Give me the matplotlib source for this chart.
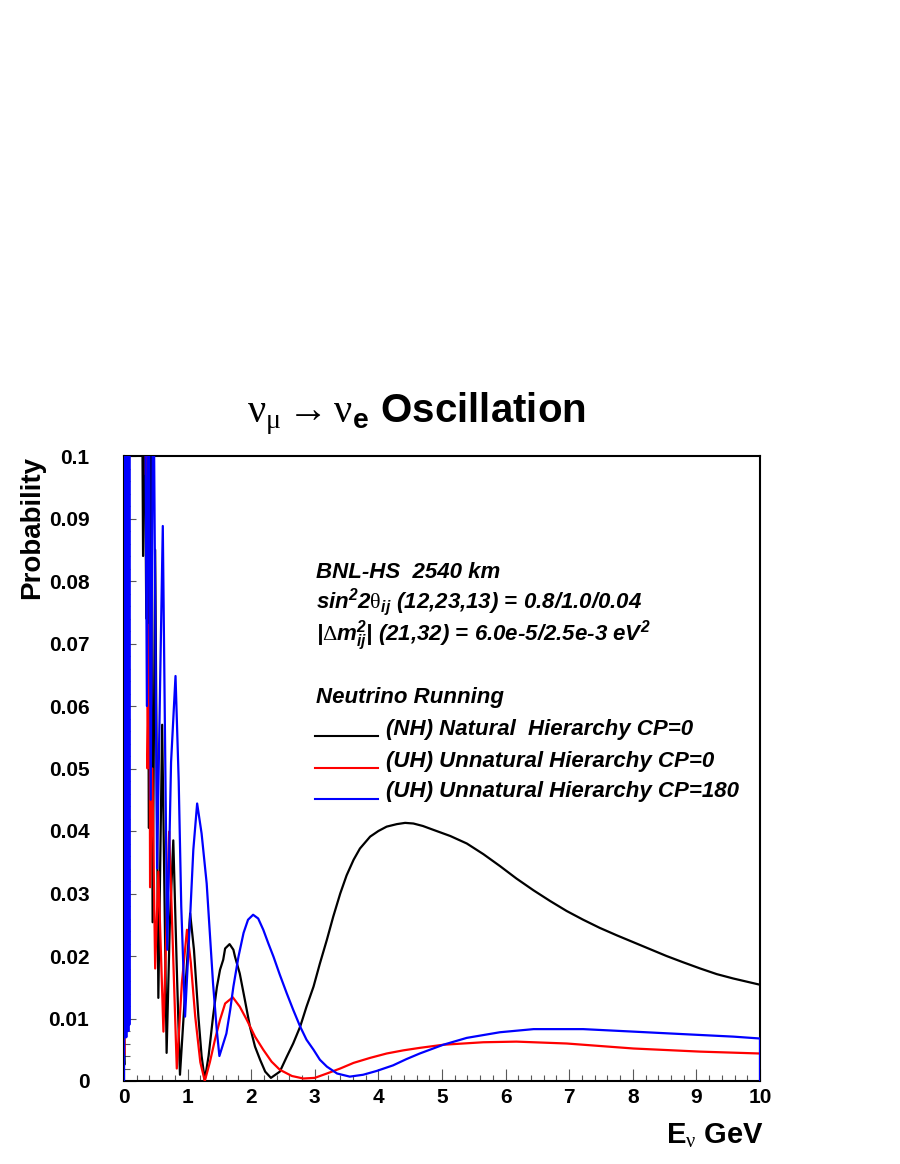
import matplotlib
matplotlib.use("Agg")
import matplotlib.pyplot as plt
from matplotlib.ticker import MultipleLocator, FixedLocator, FixedFormatter
from matplotlib.lines import Line2D

plt.rcParams['font.family'] = ['Liberation Sans', 'DejaVu Sans']
plt.rcParams['mathtext.fontset'] = 'custom'
plt.rcParams['mathtext.rm'] = 'Liberation Sans:bold:italic'
plt.rcParams['mathtext.it'] = 'Liberation Sans:bold:italic'
plt.rcParams['mathtext.bf'] = 'Liberation Sans:bold'
plt.rcParams['mathtext.sf'] = 'Liberation Serif'

# ---------------- data ----------------
E_nh = [0.000, 0.005, 0.012, 0.280, 0.300, 0.320, 0.350, 0.370, 0.390, 0.420,
        0.450, 0.490, 0.540, 0.600, 0.670, 0.720, 0.775, 0.830, 0.880, 0.960,
        1.040, 1.100, 1.170, 1.220, 1.270, 1.330, 1.400, 1.460, 1.510, 1.560,
        1.590, 1.660, 1.720, 1.745, 1.820, 1.900, 1.980, 2.060, 2.140, 2.220,
        2.310, 2.450, 2.560, 2.660, 2.770, 2.870, 2.980, 3.080, 3.190, 3.290,
        3.400, 3.500, 3.610, 3.710, 3.870, 4.000, 4.130, 4.290, 4.420, 4.550,
        4.700, 4.860, 5.130, 5.390, 5.650, 5.910, 6.170, 6.440, 6.700, 6.960,
        7.220, 7.480, 7.750, 8.010, 8.270, 8.530, 8.790, 9.060, 9.320, 9.580,
        10.0]
P_nh = [0.0042, 0.0026, 0.12, 0.12, 0.084, 0.12, 0.074, 0.12, 0.0405, 0.11,
        0.0254, 0.085, 0.0133, 0.057, 0.0045, 0.025, 0.0385, 0.018, 0.001, 0.014,
        0.0268, 0.0210, 0.0103, 0.0040, 0.0002, 0.0040, 0.0103, 0.0150, 0.0178, 0.0194,
        0.0212, 0.0219, 0.0210, 0.0199, 0.0172, 0.0130, 0.0087, 0.0055, 0.0034, 0.0015,
        0.0005, 0.0015, 0.0039, 0.0060, 0.0087, 0.0119, 0.0151, 0.0188, 0.0226, 0.0263,
        0.0300, 0.0329, 0.0354, 0.0372, 0.0391, 0.0400, 0.0407, 0.0411, 0.0413, 0.0412,
        0.0408, 0.0402, 0.0392, 0.0380, 0.0363, 0.0344, 0.0324, 0.0305, 0.0288, 0.0272,
        0.0258, 0.0245, 0.0233, 0.0222, 0.0211, 0.0200, 0.0190, 0.0180, 0.0171, 0.0164,
        0.0154]

E_uh0 = [0.000, 0.004, 0.010, 0.330, 0.345, 0.360, 0.370, 0.400, 0.410, 0.445,
         0.490, 0.540, 0.620, 0.710, 0.830, 0.910, 0.990, 1.050, 1.120, 1.200,
         1.270, 1.350, 1.430, 1.510, 1.590, 1.710, 1.820, 1.930, 2.060, 2.190,
         2.320, 2.450, 2.640, 2.820, 3.000, 3.190, 3.400, 3.610, 3.870, 4.130,
         4.390, 4.650, 5.020, 5.650, 6.170, 6.960, 8.010, 9.060, 10.0]
P_uh0 = [0.0093, 0.0042, 0.12, 0.12, 0.097, 0.12, 0.050, 0.073, 0.031, 0.050,
         0.018, 0.0335, 0.0079, 0.0399, 0.002, 0.0157, 0.0242, 0.0190, 0.0103, 0.0030,
         0.0, 0.0030, 0.0066, 0.0098, 0.0124, 0.0134, 0.0119, 0.0098, 0.0071, 0.0050,
         0.0031, 0.0018, 0.0008, 0.0004, 0.0005, 0.0012, 0.0020, 0.0029, 0.0037, 0.0044,
         0.0049, 0.0053, 0.0058, 0.0062, 0.0063, 0.0060, 0.0052, 0.0047, 0.0044]

E_uh180 = [0.000, 0.010, 0.020, 0.028, 0.036, 0.044, 0.052, 0.060, 0.068, 0.076,
           0.084, 0.090, 0.330, 0.360, 0.390, 0.420, 0.460, 0.520, 0.570, 0.610,
           0.680, 0.740, 0.810, 0.860, 0.900, 0.960, 1.040, 1.090, 1.150, 1.220,
           1.300, 1.400, 1.460, 1.500, 1.610, 1.670, 1.720, 1.800, 1.880, 1.950,
           2.030, 2.110, 2.190, 2.270, 2.350, 2.450, 2.560, 2.660, 2.770, 2.870,
           2.980, 3.080, 3.190, 3.350, 3.550, 3.760, 3.970, 4.230, 4.440, 4.650,
           5.020, 5.390, 5.910, 6.440, 7.220, 8.010, 8.790, 9.580, 10.0, 10.0]
P_uh180 = [0.000, 0.12, 0.007, 0.12, 0.007, 0.12, 0.008, 0.12, 0.008, 0.12,
           0.009, 0.12, 0.12, 0.060, 0.12, 0.045, 0.12, 0.034, 0.065, 0.0888,
           0.021, 0.051, 0.0648, 0.048, 0.028, 0.0103, 0.0263, 0.0370, 0.0444, 0.0396,
           0.0316, 0.0156, 0.0080, 0.0040, 0.0076, 0.0114, 0.0151, 0.0199, 0.0237, 0.0258,
           0.0266, 0.0260, 0.0242, 0.0220, 0.0199, 0.0170, 0.0140, 0.0114, 0.0087, 0.0066,
           0.0050, 0.0034, 0.0023, 0.0012, 0.0007, 0.0010, 0.0016, 0.0025, 0.0035, 0.0044,
           0.0058, 0.0069, 0.0078, 0.0083, 0.0083, 0.0079, 0.0075, 0.0071, 0.0068, 0.0]

x_ticks = [0, 1, 2, 3, 4, 5, 6, 7, 8, 9, 10]
x_ticklabels = ['0', '1', '2', '3', '4', '5', '6', '7', '8', '9', '10']
y_ticks = [0.0, 0.01, 0.02, 0.03, 0.04, 0.05, 0.06, 0.07, 0.08, 0.09, 0.1]
y_ticklabels = ['0', '0.01', '0.02', '0.03', '0.04', '0.05', '0.06', '0.07',
                '0.08', '0.09', '0.1']

legend_labels = ['(NH) Natural  Hierarchy CP=0',
                 '(UH) Unnatural Hierarchy CP=0',
                 '(UH) Unnatural Hierarchy CP=180']
colors = ['#000000', '#ff0000', '#0000ff']

# ---------------- figure ----------------
W, H = 900, 1164
fig = plt.figure(figsize=(W / 100, H / 100), dpi=100)
ax = fig.add_axes([124 / W, 1 - 1081 / H, 636 / W, 625 / H])

lw = 1.6
ax.plot(E_nh, P_nh, color=colors[0], lw=lw, zorder=3)
ax.plot(E_uh0, P_uh0, color=colors[1], lw=lw, zorder=3)
ax.plot(E_uh180, P_uh180, color=colors[2], lw=lw, zorder=3)

ax.set_xlim(0, 10)
ax.set_ylim(0, 0.1)
ax.xaxis.set_major_locator(FixedLocator(x_ticks))
ax.xaxis.set_major_formatter(FixedFormatter(x_ticklabels))
ax.yaxis.set_major_locator(FixedLocator(y_ticks))
ax.yaxis.set_major_formatter(FixedFormatter(y_ticklabels))
ax.xaxis.set_minor_locator(MultipleLocator(0.2))
ax.yaxis.set_minor_locator(MultipleLocator(0.002))
ax.tick_params(which='both', direction='in', top=False, right=False,
               color='0.35', width=0.8)
ax.tick_params(which='major', length=8.5)
ax.tick_params(which='minor', length=4.3)
ax.tick_params(axis='y', which='major', pad=25, labelsize=15)
ax.tick_params(axis='x', which='major', pad=5, labelsize=15)
for lab in ax.get_xticklabels() + ax.get_yticklabels():
    lab.set_fontweight('bold')
for s in ax.spines.values():
    s.set_linewidth(1.5)

def fx(px):
    return px / W

def fy(py):
    return 1 - py / H

# title
fig.text(fx(416), fy(422),
         r'$\mathsf{ν}_{\mathsf{μ}}\,\mathsf{→}\,\mathsf{ν}_{\mathbf{e}}$ Oscillation',
         fontsize=29, fontweight='bold', ha='center', va='baseline')

# axis titles
fig.text(fx(32), fy(456), 'Probability', rotation=90, fontsize=20,
         fontweight='bold', ha='center', va='top')
fig.text(fx(764), fy(1143), r'E$_{\mathsf{ν}}$ GeV', fontsize=21,
         fontweight='bold', ha='right', va='baseline')

# info text
info_kw = dict(fontsize=16, fontweight='bold', fontstyle='italic',
               ha='left', va='center')
fig.text(fx(316), fy(573), 'BNL-HS  2540 km', **info_kw)
fig.text(fx(316), fy(602), r'sin$^{2}$2$\mathsf{θ}_{ij}$ (12,23,13) = 0.8/1.0/0.04', **info_kw)
fig.text(fx(316), fy(636), r'|$\mathsf{Δ}$m$_{ij}^{2}$| (21,32) = 6.0e-5/2.5e-3 eV$^{2}$', **info_kw)
fig.text(fx(316), fy(698), 'Neutrino Running', **info_kw)

leg_y = [736, 768, 799]
txt_y = [730, 762, 792]
for c, lab, ly, ty in zip(colors, legend_labels, leg_y, txt_y):
    fig.add_artist(Line2D([fx(315), fx(378)], [fy(ly), fy(ly)], color=c, lw=1.5))
    fig.text(fx(386), fy(ty), lab, **info_kw)

fig.savefig('out.png', dpi=100)
